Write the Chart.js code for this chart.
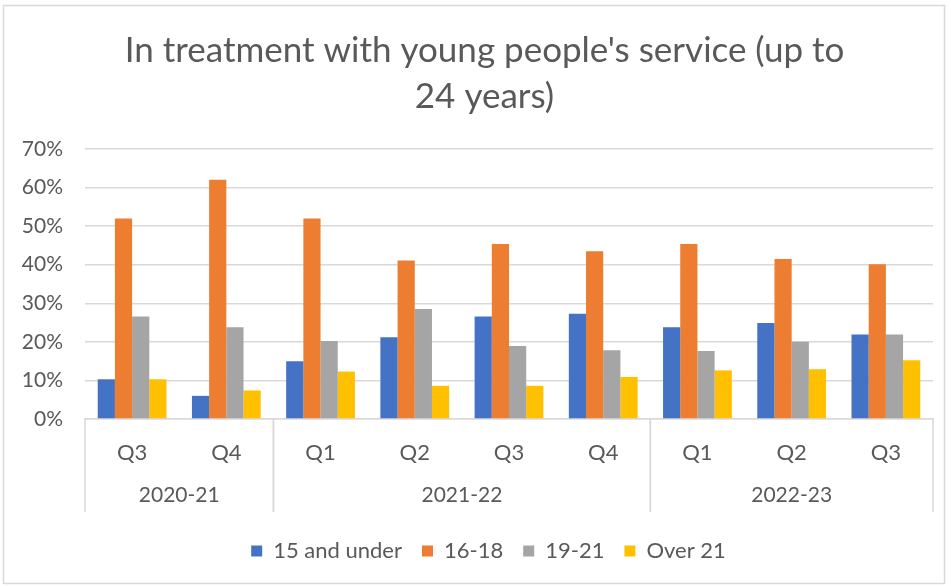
<!DOCTYPE html>
<html>
<head>
<meta charset="utf-8">
<title>In treatment with young people's service</title>
<script src="https://cdn.jsdelivr.net/npm/chart.js@4"></script>
<style>
    body { margin: 0; background: #fff; }
</style>
</head>
<body>
<canvas id="ypChart" width="951" height="586"></canvas>
<script>
// chart data
const quarters = ['Q3', 'Q4', 'Q1', 'Q2', 'Q3', 'Q4', 'Q1', 'Q2', 'Q3'];
const years = ['2020-21', '2020-21', '2021-22', '2021-22', '2021-22', '2021-22', '2022-23', '2022-23', '2022-23'];

const under15 = [10.3, 6.0, 15.0, 21.2, 26.6, 27.3, 23.8, 24.9, 21.9];
const age16to18 = [52.0, 62.0, 52.0, 41.1, 45.4, 43.5, 45.4, 41.5, 40.1];
const age19to21 = [26.6, 23.8, 20.2, 28.5, 18.9, 17.8, 17.6, 20.0, 21.9];
const over21 = [10.3, 7.4, 12.3, 8.6, 8.6, 10.9, 12.6, 12.9, 15.2];

const yTicks = [0, 10, 20, 30, 40, 50, 60, 70];

const textColor = '#595959';
const lineColor = '#d9d9d9';
const fontName = 'Lato, "Noto Sans", sans-serif';

//white background + outer border like the excel chart box
const frame = {
    id: 'frame',
    beforeDraw(chart) {
        const ctx = chart.ctx;
        ctx.save();
        ctx.fillStyle = '#fff';
        ctx.fillRect(0, 0, chart.width, chart.height);
        ctx.strokeStyle = lineColor;
        ctx.lineWidth = 1.5;
        ctx.strokeRect(3.5, 5.5, 941, 578);
        ctx.restore();
    }
};

//excel centres title + legend a bit further right than chart.js does
const nudge = {
    id: 'nudge',
    afterLayout(chart) {
        if (chart.titleBlock) {
            chart.titleBlock.left += 13;
            chart.titleBlock.right += 13;
        }
        if (chart.legend) {
            chart.legend.left += 17;
            chart.legend.right += 17;
        }
    }
};

//second level of the x axis: financial year groups
const yearGroups = {
    id: 'yearGroups',
    afterDraw(chart) {
        const ctx = chart.ctx;
        const x = chart.scales.x;
        const top = chart.chartArea.bottom;
        const bottom = top + 93;
        const half = (x.getPixelForValue(1) - x.getPixelForValue(0)) / 2;

        ctx.save();
        ctx.strokeStyle = lineColor;
        ctx.lineWidth = 1.5;
        ctx.fillStyle = textColor;
        ctx.font = '21px ' + fontName;
        ctx.textAlign = 'center';
        ctx.textBaseline = 'middle';

        let start = 0;
        for (let i = 1; i <= years.length; i++) {
            if (i === years.length || years[i] !== years[start]) {
                const left = x.getPixelForValue(start) - half;
                const right = x.getPixelForValue(i - 1) + half;
                ctx.beginPath();
                ctx.moveTo(left, top);
                ctx.lineTo(left, bottom);
                ctx.moveTo(right, top);
                ctx.lineTo(right, bottom);
                ctx.stroke();
                ctx.fillText(years[start], (left + right) / 2, top + 76);
                start = i;
            }
        }
        ctx.restore();
    }
};

const data = {
    labels: quarters,
    datasets: [
        { label: '15 and under', data: under15, backgroundColor: '#4472C4' },
        { label: '16-18', data: age16to18, backgroundColor: '#ED7D31' },
        { label: '19-21', data: age19to21, backgroundColor: '#A5A5A5' },
        { label: 'Over 21', data: over21, backgroundColor: '#FFC000' }
    ]
};

const config = {
    type: 'bar',
    data: data,
    plugins: [frame, nudge, yearGroups],
    options: {
        responsive: false,
        animation: false,
        layout: {
            padding: { top: 20, bottom: 14, left: 10, right: 18 }
        },
        datasets: {
            bar: { categoryPercentage: 0.73, barPercentage: 1.0 }
        },
        plugins: {
            title: {
                display: true,
                text: ["In treatment with young people's service (up to", '24 years)'],
                color: textColor,
                font: { family: fontName, size: 35, weight: 'normal', lineHeight: 1.3 },
                padding: { top: 8, bottom: 30 }
            },
            legend: {
                position: 'bottom',
                labels: {
                    color: textColor,
                    font: { family: fontName, size: 22 },
                    boxWidth: 11,
                    boxHeight: 11,
                    padding: 20
                }
            },
            tooltip: { enabled: false }
        },
        scales: {
            x: {
                grid: { display: false, drawTicks: false },
                border: { display: true, color: lineColor, width: 1.5 },
                ticks: {
                    color: textColor,
                    font: { family: fontName, size: 22 },
                    padding: 21,
                    maxRotation: 0
                },
                afterFit: function (scale) { scale.height = 101; }
            },
            y: {
                min: 0,
                max: 70,
                afterBuildTicks: function (scale) {
                    scale.ticks = yTicks.map(v => ({ value: v }));
                },
                grid: { color: lineColor, lineWidth: 1.5, drawTicks: false },
                border: { display: false },
                ticks: {
                    color: textColor,
                    font: { family: fontName, size: 21 },
                    padding: 22,
                    callback: v => v + '%'
                },
                afterFit: function (scale) { scale.width = 75; }
            }
        }
    }
};

new Chart(document.getElementById('ypChart'), config);
</script>
</body>
</html>
